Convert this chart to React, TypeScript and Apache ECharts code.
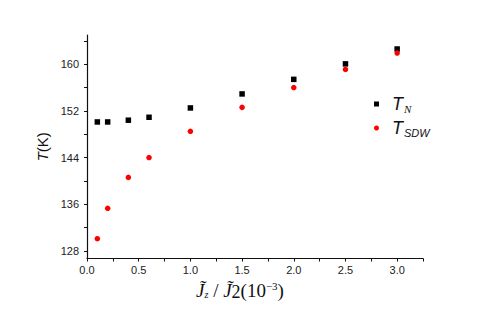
import React, { useEffect, useRef } from "react";
import * as echarts from "echarts";

const xValues = [0.1, 0.2, 0.4, 0.6, 1.0, 1.5, 2.0, 2.5, 3.0];
const tnValues = [150.1, 150.1, 150.4, 150.9, 152.5, 154.9, 157.4, 160.05, 162.6];
const tsdwValues = [130.1, 135.3, 140.6, 144.0, 148.5, 152.6, 156.0, 159.1, 161.9];
const xLabelValues = [0, 0.5, 1.0, 1.5, 2.0, 2.5, 3.0];
const xTickValues = [0, 0.25, 0.5, 0.75, 1.0, 1.25, 1.5, 1.75, 2.0, 2.25, 2.5, 2.75, 3.0, 3.25];
const yLabelValues = [128, 136, 144, 152, 160];
const yTickValues = [128, 132, 136, 140, 144, 148, 152, 156, 160, 164];

const SANS = "'Liberation Sans', Arial, sans-serif";
const SERIF = "'Liberation Serif', 'DejaVu Serif', serif";

export default function App() {
  const ref = useRef<HTMLDivElement>(null);
  useEffect(() => {
    if (!ref.current) return;
    document.body.style.margin = "0";
    const chart = echarts.init(ref.current, undefined, { renderer: "svg" });
    const axisCommon = {
      axisLine: { show: true, lineStyle: { color: "#111", width: 1.2 } },
      splitLine: { show: false },
    };
    chart.setOption({
      animation: false,
      backgroundColor: "#fff",
      grid: { left: 87, top: 35, right: 68, bottom: 68.5, containLabel: false },
      legend: {
        orient: "vertical",
        left: 369,
        top: 90,
        itemWidth: 5,
        itemHeight: 5,
        itemGap: 5,
        data: ["TN", "TSDW"],
        formatter: (name: string) =>
          name === "TN" ? "{t|T}{sn|N}" : "{t|T}{s|SDW}",
        textStyle: {
          rich: {
            t: { fontFamily: SANS, fontStyle: "italic", fontSize: 18, color: "#111", padding: [0, 0, 0, 8] },
            sn: { fontFamily: SERIF, fontStyle: "italic", fontSize: 11, color: "#111", padding: [9, 0, 0, 1] },
            s: { fontFamily: SANS, fontStyle: "italic", fontSize: 11, color: "#111", padding: [9, 0, 0, 1] },
          },
        },
      },
      xAxis: {
        type: "value",
        min: 0,
        max: 3.25,
        ...axisCommon,
        axisTick: { show: true, inside: false, length: 3, customValues: xTickValues, lineStyle: { color: "#111" } },
        axisLabel: {
          customValues: xLabelValues,
          formatter: (v: number) => v.toFixed(1),
          fontFamily: SANS,
          fontSize: 11,
          color: "#222",
          margin: 6,
        },
        name: "{j|J̃}{sub|z}{n| / }{j|J̃}{n2|2}{n|(10}{sup|−3}{n|)}",
        nameLocation: "middle",
        nameGap: 20,
        nameTextStyle: {
          padding: [0, 30, 0, 0],
          rich: {
            j: { fontFamily: SERIF, fontStyle: "italic", fontSize: 19, color: "#111" },
            sub: { fontFamily: SERIF, fontStyle: "italic", fontSize: 10, color: "#111", padding: [8, 0, 0, 0] },
            n: { fontFamily: SERIF, fontSize: 19, color: "#111" },
            n2: { fontFamily: SERIF, fontSize: 18, color: "#111", padding: [4, 0, 0, 0] },
            sup: { fontFamily: SERIF, fontSize: 11, color: "#111", padding: [0, 0, 9, 0] },
          },
        },
      },
      yAxis: {
        type: "value",
        min: 126.7,
        max: 165,
        ...axisCommon,
        axisTick: { show: true, inside: false, length: 3, customValues: yTickValues, lineStyle: { color: "#111" } },
        axisLabel: {
          customValues: yLabelValues,
          fontFamily: SANS,
          fontSize: 11,
          color: "#222",
          margin: 8,
        },
        name: "{t|T}{n|(K)}",
        nameLocation: "middle",
        nameGap: 35,
        nameRotate: 90,
        nameTextStyle: {
          rich: {
            t: { fontFamily: SANS, fontStyle: "italic", fontSize: 15, color: "#111" },
            n: { fontFamily: SANS, fontSize: 15, color: "#111" },
          },
        },
      },
      series: [
        {
          name: "TN",
          type: "scatter",
          symbol: "rect",
          symbolSize: 5.5,
          itemStyle: { color: "#000", opacity: 1 },
          data: xValues.map((x, i) => [x, tnValues[i]]),
        },
        {
          name: "TSDW",
          type: "scatter",
          symbol: "circle",
          symbolSize: 5.5,
          itemStyle: { color: "#ff0000", opacity: 1 },
          data: xValues.map((x, i) => [x, tsdwValues[i]]),
        },
      ],
    });
    return () => chart.dispose();
  }, []);
  return <div ref={ref} style={{ width: 491, height: 327 }} />;
}
